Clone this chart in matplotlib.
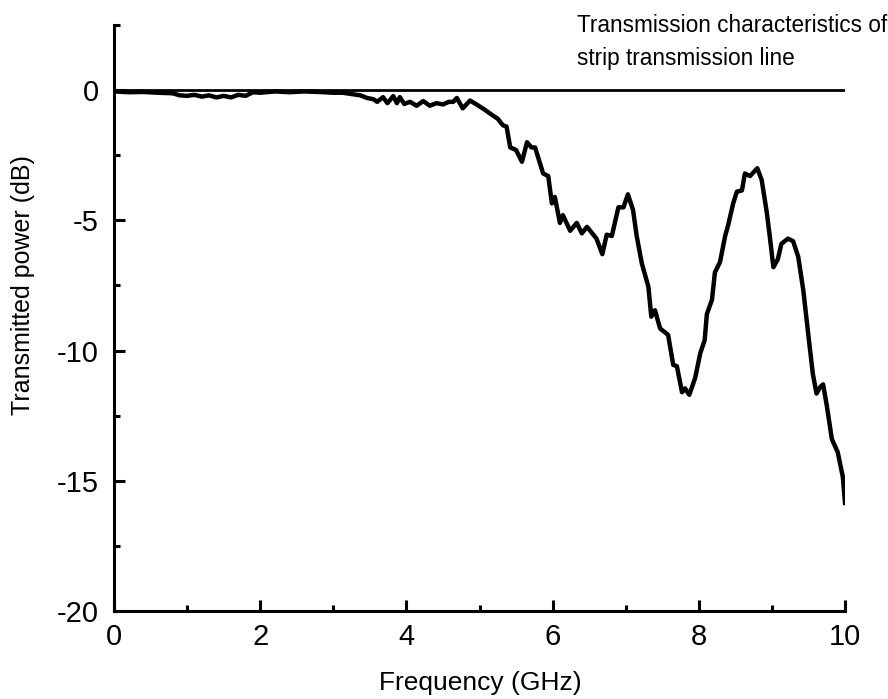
import matplotlib
matplotlib.use("Agg")
import matplotlib.pyplot as plt
from matplotlib.ticker import MultipleLocator, FuncFormatter

plt.rcParams['font.family'] = ['Liberation Sans', 'DejaVu Sans']
plt.rcParams['axes.unicode_minus'] = False

# measured transmission (GHz, dB)
freq = [0.0, 0.2, 0.4, 0.6, 0.8, 0.9, 1.0, 1.1, 1.2, 1.3, 1.4, 1.5, 1.6, 1.7, 1.8, 1.9,
        2.0, 2.2, 2.4, 2.6, 2.8, 3.0, 3.13, 3.25, 3.37, 3.46, 3.55, 3.6, 3.68, 3.74,
        3.82, 3.87, 3.91, 3.97, 4.05, 4.14, 4.23, 4.32, 4.41, 4.5, 4.58, 4.64, 4.69,
        4.77, 4.87, 4.96, 5.07, 5.17, 5.25, 5.32, 5.37, 5.42, 5.5, 5.58, 5.65, 5.71,
        5.76, 5.87, 5.94, 5.99, 6.03, 6.10, 6.14, 6.24, 6.33, 6.40, 6.47, 6.60, 6.68,
        6.74, 6.81, 6.90, 6.97, 7.03, 7.10, 7.15, 7.22, 7.31, 7.35, 7.40, 7.47, 7.58,
        7.65, 7.70, 7.77, 7.81, 7.87, 7.95, 8.02, 8.08, 8.11, 8.18, 8.22, 8.29, 8.36,
        8.40, 8.47, 8.52, 8.59, 8.63, 8.70, 8.80, 8.86, 8.93, 8.97, 9.02, 9.08, 9.13,
        9.22, 9.29, 9.36, 9.43, 9.49, 9.56, 9.61, 9.66, 9.70, 9.75, 9.82, 9.90, 9.97,
        10.0]
power = [-0.05, -0.08, -0.07, -0.1, -0.12, -0.2, -0.22, -0.18, -0.25, -0.2, -0.28, -0.22,
         -0.28, -0.18, -0.22, -0.08, -0.1, -0.05, -0.08, -0.05, -0.07, -0.1, -0.1, -0.15,
         -0.2, -0.3, -0.35, -0.45, -0.27, -0.5, -0.23, -0.5, -0.27, -0.53, -0.45, -0.6,
         -0.42, -0.6, -0.5, -0.55, -0.45, -0.45, -0.3, -0.7, -0.4, -0.55, -0.75, -0.95,
         -1.1, -1.35, -1.4, -2.2, -2.3, -2.75, -2.0, -2.2, -2.2, -3.2, -3.3, -4.35, -4.1,
         -5.1, -4.8, -5.4, -5.1, -5.5, -5.25, -5.7, -6.3, -5.55, -5.6, -4.5, -4.5, -4.0,
         -4.6, -5.6, -6.65, -7.55, -8.7, -8.45, -9.15, -9.4, -10.55, -10.6, -11.6, -11.45,
         -11.7, -11.05, -10.1, -9.6, -8.6, -8.05, -7.0, -6.6, -5.6, -5.2, -4.35, -3.9,
         -3.85, -3.2, -3.3, -3.0, -3.45, -4.7, -5.6, -6.8, -6.5, -5.9, -5.7, -5.8, -6.4,
         -7.7, -9.2, -10.9, -11.65, -11.4, -11.3, -12.1, -13.4, -13.9, -14.85, -15.85]

x_range = [0, 10]
y_range = [-20, 2.5]
ref_level = [0, 0]

fig = plt.figure(figsize=(8.88, 6.99), dpi=100)
ax = fig.add_axes([0.1284, 0.1259, 0.8232, 0.8383])

ax.plot(x_range, ref_level, color='black', lw=2.0)
ax.plot(freq, power, color='black', lw=3.2, solid_joinstyle='round')

ax.set_xlim(x_range)
ax.set_ylim(y_range)
ax.spines['top'].set_visible(False)
ax.spines['right'].set_visible(False)
for s in ('left', 'bottom'):
    ax.spines[s].set_linewidth(2.2)

ax.xaxis.set_major_locator(MultipleLocator(2))
ax.xaxis.set_minor_locator(MultipleLocator(1))
ax.yaxis.set_major_locator(MultipleLocator(5))
ax.yaxis.set_minor_locator(MultipleLocator(2.5))
ax.yaxis.set_major_formatter(FuncFormatter(lambda v, p: f"{v:g}"))
ax.tick_params(which='major', direction='in', length=8, width=2.2, labelsize=21)
ax.tick_params(which='minor', direction='in', length=4.5, width=2.2)
ax.tick_params(axis='x', which='major', pad=9)
ax.tick_params(axis='y', which='major', pad=11)

ax.set_xlabel("Frequency (GHz)", fontsize=19)
ax.xaxis.set_label_coords(0.5007, -0.1025)
ax.set_ylabel("Transmitted power (dB)", fontsize=18)
ax.yaxis.set_label_coords(-0.108, 0.556)

fig.text(577 / 888, 1 - 14 / 699,
         "Transmission characteristics of\nstrip transmission line",
         fontsize=16.3, ha='left', va='top', linespacing=1.55)

fig.savefig("out.png", dpi=100)
